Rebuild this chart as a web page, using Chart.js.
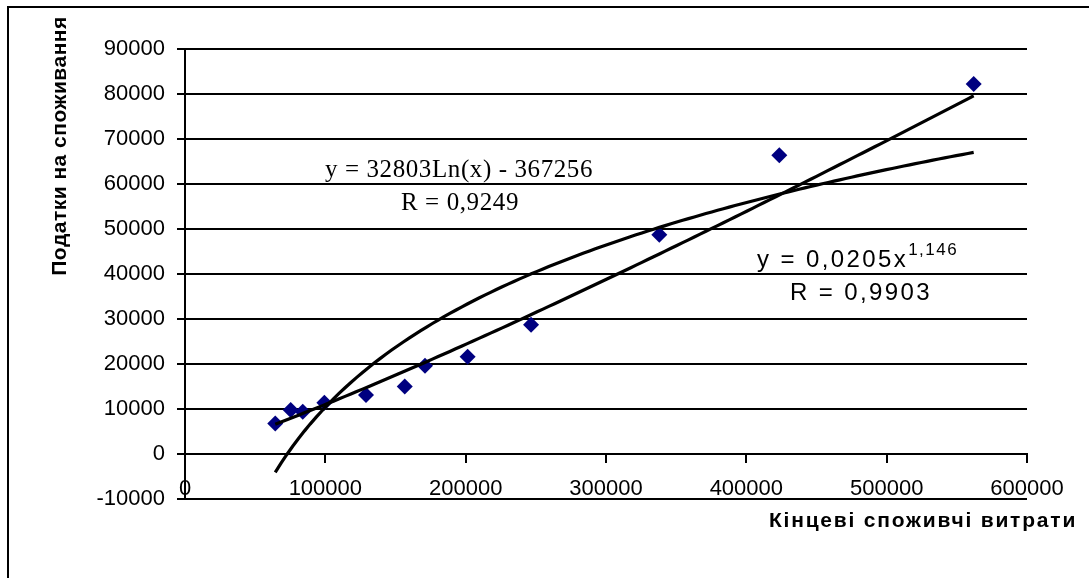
<!DOCTYPE html>
<html>
<head>
<meta charset="utf-8">
<script src="https://cdn.jsdelivr.net/npm/chart.js@4.4.1/dist/chart.umd.min.js"></script>
<style>
  html, body { margin: 0; padding: 0; background: #fff; }
  #wrap { width: 1089px; height: 578px; position: relative; }
</style>
</head>
<body>
<div id="wrap"><canvas id="chart" width="1089" height="578"></canvas></div>
<script>
// Final consumer spending (x) and consumption taxes (y)
const spending = [64300, 75300, 83900, 99300, 129000, 156600, 171000, 201400, 246600, 338000, 423500, 562000];
const taxes    = [6800, 9800, 9400, 11400, 13100, 15000, 19600, 21600, 28700, 48700, 66400, 82200];

// Axis ticks
const xTickValues = [0, 100000, 200000, 300000, 400000, 500000, 600000];
const yTickValues = [-10000, 0, 10000, 20000, 30000, 40000, 50000, 60000, 70000, 80000, 90000];

// Trend line coefficients, as printed in the equations
const logSlope = 32803, logIntercept = -367256, logR = '0,9249';
const powFactor = 0.0205, powExponent = 1.146, powR = '0,9903';

const xTitle = 'Кінцеві споживчі витрати';
const yTitle = 'Податки на споживання';

// Sample the fitted curves across the observed range of spending
const xMin = Math.min(...spending), xMax = Math.max(...spending);
const steps = 120;
const logTrend = [], powTrend = [];
for (let i = 0; i <= steps; i++) {
  const x = xMin + (xMax - xMin) * i / steps;
  logTrend.push({ x, y: logSlope * Math.log(x) + logIntercept });
  powTrend.push({ x, y: powFactor * Math.pow(x, powExponent) });
}

const points = spending.map((x, i) => ({ x, y: taxes[i] }));

const FONT = '"Liberation Sans", Arial, sans-serif';
const SERIF = '"Liberation Serif", "Times New Roman", serif';

const fmtNum = v => String(v);
const fmtCoef = v => String(v).replace('.', ',');

// Frame, axis titles and the trend equations
const annotations = {
  id: 'annotations',
  afterDraw(chart) {
    const ctx = chart.ctx;
    ctx.save();
    ctx.strokeStyle = '#000';
    ctx.lineWidth = 2;
    ctx.beginPath();
    ctx.moveTo(8, 578);
    ctx.lineTo(8, 7);
    ctx.lineTo(1089, 7);
    ctx.stroke();

    ctx.fillStyle = '#000';
    // y axis title
    ctx.save();
    ctx.font = 'bold 21px ' + FONT;
    ctx.letterSpacing = '0.5px';
    ctx.translate(66, 146);
    ctx.rotate(-Math.PI / 2);
    ctx.textAlign = 'center';
    ctx.textBaseline = 'alphabetic';
    ctx.fillText(yTitle, 0, 0);
    ctx.restore();

    // x axis title
    ctx.save();
    ctx.font = 'bold 21px ' + FONT;
    ctx.letterSpacing = '1.8px';
    ctx.textAlign = 'center';
    ctx.textBaseline = 'alphabetic';
    ctx.fillText(xTitle, 923, 527);
    ctx.restore();

    // logarithmic trend equation
    ctx.save();
    ctx.font = '25px ' + SERIF;
    ctx.letterSpacing = '0.6px';
    ctx.textAlign = 'center';
    ctx.fillText('y = ' + logSlope + 'Ln(x) - ' + Math.abs(logIntercept), 459, 177);
    ctx.fillText('R = ' + logR, 460, 210);
    ctx.restore();

    // power trend equation
    ctx.save();
    ctx.font = '24px ' + FONT;
    ctx.letterSpacing = '2.4px';
    ctx.textAlign = 'left';
    const main = 'y = ' + fmtCoef(powFactor) + 'x';
    ctx.fillText(main, 757, 267);
    const w = ctx.measureText(main).width;
    ctx.font = '17px ' + FONT;
    ctx.letterSpacing = '1.5px';
    ctx.fillText(fmtCoef(powExponent), 757 + w, 255);
    ctx.font = '24px ' + FONT;
    ctx.letterSpacing = '2.4px';
    ctx.textAlign = 'center';
    ctx.fillText('R = ' + powR, 861, 300);
    ctx.restore();

    ctx.restore();
  }
};

new Chart(document.getElementById('chart'), {
  type: 'scatter',
  data: {
    datasets: [
      {
        label: 'Податки',
        data: points,
        order: 2,
        pointStyle: 'rectRot',
        pointRadius: 8,
        pointHoverRadius: 8,
        backgroundColor: '#000080',
        borderColor: '#000080',
        borderWidth: 0
      },
      {
        label: 'Log',
        data: logTrend,
        order: 1,
        showLine: true,
        pointRadius: 0,
        borderColor: '#000',
        borderWidth: 3.2,
        fill: false
      },
      {
        label: 'Power',
        data: powTrend,
        order: 1,
        showLine: true,
        pointRadius: 0,
        borderColor: '#000',
        borderWidth: 3.2,
        fill: false
      }
    ]
  },
  options: {
    responsive: false,
    animation: false,
    events: [],
    layout: { padding: { top: 49, right: 62, bottom: 79, left: 0 } },
    plugins: {
      legend: { display: false },
      tooltip: { enabled: false },
      title: { display: false }
    },
    scales: {
      x: {
        type: 'linear',
        position: { y: 0 },
        min: xTickValues[0],
        max: xTickValues[xTickValues.length - 1],
        afterBuildTicks: s => { s.ticks = xTickValues.map(v => ({ value: v })); },
        ticks: {
          callback: fmtNum,
          color: '#000',
          font: { family: FONT, size: 22 },
          padding: 14,
          maxRotation: 0,
          autoSkip: false
        },
        grid: {
          display: true,
          drawOnChartArea: false,
          drawTicks: true,
          tickLength: 8,
          color: '#000',
          lineWidth: 2
        },
        border: { display: true, color: '#000', width: 2 }
      },
      y: {
        type: 'linear',
        position: 'left',
        min: yTickValues[0],
        max: yTickValues[yTickValues.length - 1],
        afterBuildTicks: s => { s.ticks = yTickValues.map(v => ({ value: v })); },
        afterFit: s => { s.width = 185; },
        ticks: {
          callback: fmtNum,
          color: '#000',
          font: { family: FONT, size: 22 },
          padding: 12,
          autoSkip: false
        },
        grid: {
          color: '#000',
          lineWidth: 2,
          drawTicks: true,
          tickLength: 8
        },
        border: { display: true, color: '#000', width: 2 }
      }
    }
  },
  plugins: [annotations]
});
</script>
</body>
</html>
